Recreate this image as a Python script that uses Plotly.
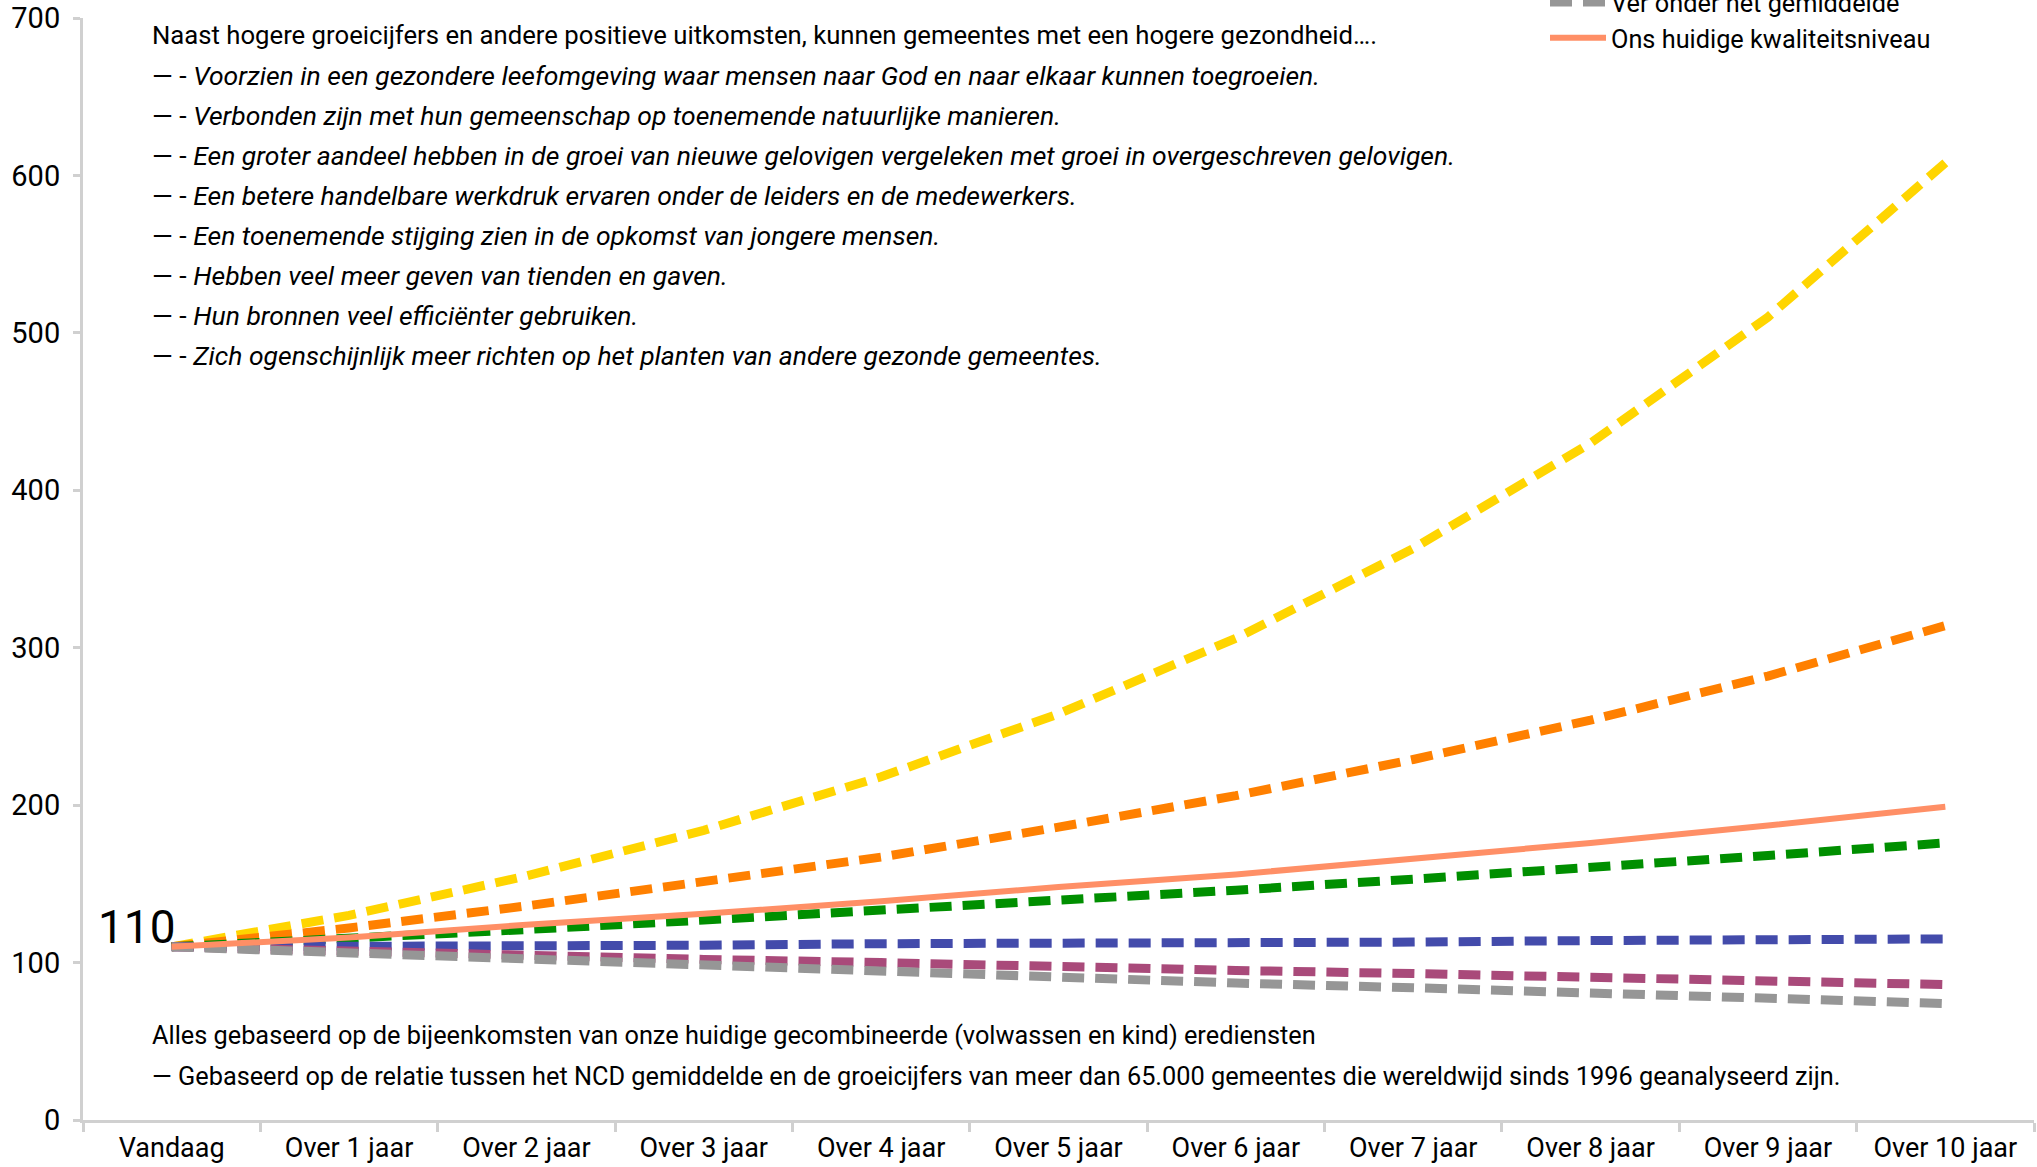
import plotly.graph_objects as go

# ---- data ----
categories = ["Vandaag", "Over 1 jaar", "Over 2 jaar", "Over 3 jaar", "Over 4 jaar",
              "Over 5 jaar", "Over 6 jaar", "Over 7 jaar", "Over 8 jaar", "Over 9 jaar", "Over 10 jaar"]

ver_boven = [110, 130, 155, 184, 218, 258, 306, 363, 430, 510, 608]
boven = [110, 122, 136, 151, 167, 186, 206, 229, 254, 282, 314]
iets_boven = [110, 115, 121, 127, 133, 139, 146, 153, 160, 168, 176]
gemiddeld = [110, 110, 111, 111, 112, 112, 113, 113, 114, 114, 115]
onder = [110, 107, 105, 102, 100, 97, 95, 93, 91, 88, 86]
ver_onder = [110, 106, 102, 98, 94, 91, 87, 84, 81, 77, 74]
huidig = [110, 116, 124, 131, 139, 148, 156, 166, 176, 187, 199]

y_ticks = [0, 100, 200, 300, 400, 500, 600, 700]

top_lines = [
    "Naast hogere groeicijfers en andere positieve uitkomsten, kunnen gemeentes met een hogere gezondheid….",
    "— - <i>Voorzien in een gezondere leefomgeving waar mensen naar God en naar elkaar kunnen toegroeien.</i>",
    "— - <i>Verbonden zijn met hun gemeenschap op toenemende natuurlijke manieren.</i>",
    "— - <i>Een groter aandeel hebben in de groei van nieuwe gelovigen vergeleken met groei in overgeschreven gelovigen.</i>",
    "— - <i>Een betere handelbare werkdruk ervaren onder de leiders en de medewerkers.</i>",
    "— - <i>Een toenemende stijging zien in de opkomst van jongere mensen.</i>",
    "— - <i>Hebben veel meer geven van tienden en gaven.</i>",
    "— - <i>Hun bronnen veel efficiënter gebruiken.</i>",
    "— - <i>Zich ogenschijnlijk meer richten op het planten van andere gezonde gemeentes.</i>",
]
bottom_lines = [
    "Alles gebaseerd op de bijeenkomsten van onze huidige gecombineerde (volwassen en kind) erediensten",
    "— Gebaseerd op de relatie tussen het NCD gemiddelde en de groeicijfers van meer dan 65.000 gemeentes die wereldwijd sinds 1996 geanalyseerd zijn.",
]

# ---- layout geometry (pixels) ----
W, H = 2037, 1167
L, R, T, B = 83, 3, 18, 47
PW, PH = W - L - R, H - T - B

def px(x):
    return (x - L) / PW

def py(y):
    return (H - B - y) / PH

FONT = "Roboto, Arial, sans-serif"
TXT = 25.3
TXT_HEAD = 25.7
TXT_I = 26.5

fig = go.Figure()
dash = "22px,11px"
series = [
    ("Ver boven het gemiddelde", ver_boven, "#FFD500", dash, 9, False),
    ("Boven het gemiddelde", boven, "#FF8000", dash, 9, False),
    ("Iets boven het gemiddelde", iets_boven, "#008F00", dash, 9, False),
    ("Gemiddeld", gemiddeld, "#434BAB", dash, 9, False),
    ("Onder het gemiddelde", onder, "#A94A7A", dash, 9, False),
    ("Ver onder het gemiddelde", ver_onder, "#969696", dash, 9, True),
    ("Ons huidige kwaliteitsniveau", huidig, "#FF8F66", "solid", 6, True),
]
for name, vals, color, d, w, show in series:
    fig.add_trace(go.Scatter(x=categories, y=vals, mode="lines", name=name,
                             line=dict(color=color, width=w, dash=d),
                             showlegend=show))

annotations = []
for i, t in enumerate(top_lines):
    size = TXT_HEAD if i == 0 else TXT_I
    annotations.append(dict(text=t, xref="paper", yref="paper", x=px(150), y=py(35 + i * 40.1),
                            xanchor="left", yanchor="middle", showarrow=False,
                            font=dict(size=size, color="#000000", family=FONT)))
for i, t in enumerate(bottom_lines):
    annotations.append(dict(text=t, xref="paper", yref="paper", x=px(150), y=py(1035 + i * 41),
                            xanchor="left", yanchor="middle", showarrow=False,
                            font=dict(size=TXT, color="#000000", family=FONT)))
annotations.append(dict(text="110", xref="paper", yref="paper", x=px(178), y=py(927),
                        xanchor="right", yanchor="middle", showarrow=False,
                        font=dict(size=46, color="#000000", family=FONT)))

fig.update_layout(
    width=W, height=H,
    margin=dict(l=L, r=R, t=T, b=B, autoexpand=False),
    paper_bgcolor="white", plot_bgcolor="white",
    font=dict(family=FONT, color="#000000"),
    showlegend=True,
    legend=dict(x=px(1545), y=py(-21), xanchor="left", yanchor="top",
                bgcolor="rgba(0,0,0,0)", font=dict(size=TXT, family=FONT),
                itemwidth=56, tracegroupgap=0),
    annotations=annotations,
    xaxis=dict(type="category", range=[-0.5, 10.5], showgrid=False, zeroline=False,
               showline=True, linecolor="#D0D0D0", linewidth=3,
               ticks="outside", tickson="boundaries", ticklen=9, tickwidth=3, tickcolor="#D0D0D0",
               tickfont=dict(size=27, family=FONT, color="#000000"), ticklabelstandoff=2),
    yaxis=dict(range=[0, 700], tickvals=y_ticks, showgrid=False, zeroline=False,
               showline=True, linecolor="#D0D0D0", linewidth=3,
               ticks="outside", ticklen=7, tickwidth=3, tickcolor="#D0D0D0",
               tickfont=dict(size=29, family=FONT, color="#000000"), ticklabelstandoff=7),
)

fig.write_html("out.html", config={"displayModeBar": False},
               post_script="document.body.style.margin='0';document.body.style.overflow='hidden';")
